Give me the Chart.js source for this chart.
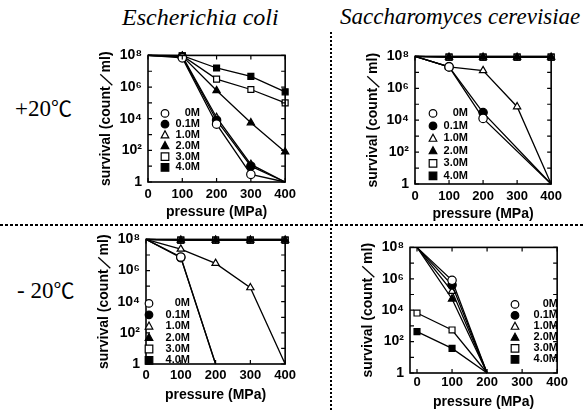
<!DOCTYPE html>
<html>
<head>
<meta charset="utf-8">
<script src="https://cdn.jsdelivr.net/npm/chart.js@4.4.1/dist/chart.umd.min.js"></script>
<style>
  body { margin: 0; background: #fff; width: 583px; height: 412px; overflow: hidden; position: relative; }
  canvas { position: absolute; }
  .txt { position: absolute; white-space: nowrap; color: #000; line-height: 1; }
  .title { font-style: italic; font-family: "Liberation Serif", "Times New Roman", serif; top: 5px; }
  .temp { font: 23px "Liberation Serif", serif; }
  .deg { font-family: "Noto Sans CJK JP", sans-serif; font-size: 21px; }
  .hsep { position: absolute; left: 0; top: 224px; width: 583px; height: 1.5px;
          background: repeating-linear-gradient(90deg, #000 0 3px, transparent 3px 5px); }
  .vsep { position: absolute; left: 330px; top: 32px; width: 1.5px; height: 380px;
          background: repeating-linear-gradient(180deg, #000 0 2px, transparent 2px 4px); }
</style>
</head>
<body>
<div class="txt title" style="left:122px;font-size:24px">Escherichia coli</div>
<div class="txt title" style="left:340px;font-size:23px">Saccharomyces cerevisiae</div>
<div class="txt temp" style="left:15px;top:92px">+20<span class="deg">℃</span></div>
<div class="txt temp" style="left:17px;top:274px">- 20<span class="deg">℃</span></div>
<div class="hsep"></div>
<div class="vsep"></div>
<canvas id="p1"></canvas>
<canvas id="p2"></canvas>
<canvas id="p3"></canvas>
<canvas id="p4"></canvas>
<script>
// series (salt concentration) and marker look
const seriesLabels = ['0M', '0.1M', '1.0M', '2.0M', '3.0M', '4.0M'];
const markerShape = ['circle', 'circle', 'triangle', 'triangle', 'rect', 'rect'];
const markerFilled = [false, true, false, true, false, true];

const yTickValues = [1, 1e2, 1e4, 1e6, 1e8];
const yTickLabels = ['1', '10²', '10⁴', '10⁶', '10⁸'];
const xTickValues = [0, 100, 200, 300, 400];

// E. coli, +20C  (survival count/ml at each pressure)
const ecoliWarmP = [0, 100, 200, 300, 400];
const ecoliWarm = [
  [1e8, 7e7, 4.5e3, 3, 1],
  [1e8, 8e7, 8e3, 10, 1],
  [1e8, 9e7, 1.2e4, 13, 1],
  [1e8, 9e7, 6e5, 5.6e3, 80],
  [1e8, 9.5e7, 3.2e6, 7e5, 1e5],
  [1e8, 9.5e7, 1.6e7, 4.7e6, 5e5]
];

// S. cerevisiae, +20C
const yeastWarmP = [0, 100, 200, 300, 400];
const yeastWarm = [
  [1e8, 2.2e7, 1.3e4, null, 1],
  [1e8, 2.2e7, 3e4, null, 1],
  [1e8, 2.2e7, 1.3e7, 7e4, 1],
  [1e8, 9e7, 9e7, 9e7, 9e7],
  [1e8, 9e7, 9e7, 9e7, 9e7],
  [1e8, 9e7, 9e7, 9e7, 9e7]
];

// E. coli, -20C
const ecoliColdP = [0, 100, 200, 300, 400];
const ecoliCold = [
  [1e8, 7.4e6, 1, null, null],
  [1e8, 6.8e6, 1, null, null],
  [1e8, 2.4e7, 2.9e6, 8e4, 1],
  [1e8, 9e7, 9e7, 9e7, 9e7],
  [1e8, 9e7, 9e7, 9e7, 9e7],
  [1e8, 9e7, 9e7, 9e7, 9e7]
];

// S. cerevisiae, -20C
const yeastColdP = [0, 100, 200];
const yeastCold = [
  [1e8, 8e5, 1],
  [1e8, 4e5, 1],
  [1e8, 1.6e5, 1],
  [1e8, 5.2e4, 1],
  [6.6e3, 5.5e2, 1],
  [4.3e2, 37, 1]
];

const FONT = '"Liberation Sans", Arial, sans-serif';

function drawMarker(ctx, shape, filled, x, y, r) {
  ctx.save();
  ctx.beginPath();
  if (shape === 'circle') {
    ctx.arc(x, y, r, 0, Math.PI * 2);
  } else if (shape === 'triangle') {
    ctx.moveTo(x, y - r * 1.1);
    ctx.lineTo(x + r, y + r * 0.75);
    ctx.lineTo(x - r, y + r * 0.75);
    ctx.closePath();
  } else {
    ctx.rect(x - r, y - r, r * 2, r * 2);
  }
  ctx.fillStyle = filled ? '#000' : '#fff';
  ctx.fill();
  ctx.lineWidth = 1.2;
  ctx.strokeStyle = '#000';
  ctx.stroke();
  ctx.restore();
}

// box frame with inward ticks on all four sides
const frameTicks = {
  id: 'frameTicks',
  afterDraw(chart) {
    const {ctx, chartArea: a, scales: {x, y}} = chart;
    ctx.save();
    ctx.strokeStyle = '#000';
    ctx.lineWidth = 1.6;
    ctx.strokeRect(a.left, a.top, a.right - a.left, a.bottom - a.top);
    ctx.lineWidth = 1.2;
    ctx.beginPath();
    for (let d = 0; d <= 8; d++) {
      const py = y.getPixelForValue(Math.pow(10, d));
      ctx.moveTo(a.left, py); ctx.lineTo(a.left + 4, py);
      ctx.moveTo(a.right, py); ctx.lineTo(a.right - 4, py);
    }
    xTickValues.forEach(v => {
      const px = x.getPixelForValue(v);
      ctx.moveTo(px, a.bottom); ctx.lineTo(px, a.bottom - 4);
      ctx.moveTo(px, a.top); ctx.lineTo(px, a.top + 4);
    });
    ctx.stroke();
    ctx.restore();
  }
};

// legend drawn inside the plot area
const innerLegend = {
  id: 'innerLegend',
  afterDraw(chart, args, opts) {
    const {ctx, chartArea: a} = chart;
    const mx = a.left + opts.x;
    ctx.save();
    ctx.font = 'bold 11px ' + FONT;
    ctx.textAlign = 'right';
    ctx.textBaseline = 'middle';
    ctx.fillStyle = '#000';
    seriesLabels.forEach((lab, i) => {
      const my = a.top + opts.y + i * opts.gap;
      drawMarker(ctx, markerShape[i], markerFilled[i], mx, my, 3.8);
      ctx.fillText(lab, mx + opts.textEnd, my);
    });
    ctx.restore();
  }
};

function makePanel(id, box, pressures, rows, opt) {
  const canvas = document.getElementById(id);
  const padL = 64, padT = 10, padR = 10, xH = 42;
  canvas.width = box.r - box.l + padL + padR;
  canvas.height = box.b - box.t + padT + xH;
  canvas.style.left = (box.l - padL) + 'px';
  canvas.style.top = (box.t - padT) + 'px';

  const datasets = rows.map((vals, i) => ({
    label: seriesLabels[i],
    data: pressures.map((p, j) => ({x: p, y: vals[j]})).filter(d => d.y !== null),
    showLine: true,
    borderColor: '#000',
    borderWidth: 1.3,
    tension: 0,
    clip: 8,
    pointStyle: markerShape[i],
    pointBackgroundColor: markerFilled[i] ? '#000' : '#fff',
    pointBorderColor: '#000',
    pointBorderWidth: 1.2,
    pointRadius: c => (c.raw && (c.raw.y >= 1e8 || c.raw.y <= 1)) ? 0 : 4.2
  }));

  return new Chart(canvas, {
    type: 'scatter',
    data: {datasets},
    options: {
      responsive: false,
      animation: false,
      devicePixelRatio: 1,
      layout: {padding: {top: padT, right: padR, left: 0, bottom: 0}},
      scales: {
        x: {
          type: 'linear',
          min: opt.xMin,
          max: 400,
          afterBuildTicks: s => { s.ticks = xTickValues.map(v => ({value: v})); },
          afterFit: s => { s.height = xH; },
          grid: {display: false, drawTicks: false},
          border: {display: false},
          ticks: {color: '#000', padding: opt.xTickPad, maxRotation: 0, autoSkip: false,
                  font: {family: FONT, size: 13, weight: 'bold'}},
          title: {display: true, text: 'pressure (MPa)', color: '#000',
                  padding: {top: 0, bottom: opt.xTitlePad},
                  font: {family: FONT, size: 14, weight: 'bold'}}
        },
        y: {
          type: 'logarithmic',
          min: 1,
          max: 1e8,
          afterBuildTicks: s => { s.ticks = yTickValues.map(v => ({value: v})); },
          afterFit: s => { s.width = padL; },
          grid: {display: false, drawTicks: false},
          border: {display: false},
          ticks: {color: '#000', padding: 6, autoSkip: false,
                  callback: v => yTickLabels[yTickValues.indexOf(v)],
                  font: {family: FONT, size: 14, weight: 'bold'}},
          title: {display: true, text: 'survival (count／ml)', color: '#000',
                  padding: {top: opt.yTitlePad, bottom: 0},
                  font: {family: FONT, size: 14, weight: 'bold'}}
        }
      },
      plugins: {
        legend: {display: false},
        tooltip: {enabled: false},
        innerLegend: opt.legend
      }
    },
    plugins: [frameTicks, innerLegend]
  });
}

makePanel('p1', {l: 148, r: 291, t: 51, b: 182}, ecoliWarmP, ecoliWarm,
  {xMin: 0, xTickPad: 5, xTitlePad: 3, yTitlePad: 14, legend: {x: 17, y: 58, gap: 10.8, textEnd: 35}});
makePanel('p2', {l: 415, r: 557, t: 52, b: 184}, yeastWarmP, yeastWarm,
  {xMin: 0, xTickPad: 5, xTitlePad: 3, yTitlePad: 14, legend: {x: 18, y: 57, gap: 12.5, textEnd: 35}});
makePanel('p3', {l: 146, r: 290, t: 235, b: 364}, ecoliColdP, ecoliCold,
  {xMin: 0, xTickPad: 4, xTitlePad: 2, yTitlePad: 14, legend: {x: 3, y: 64, gap: 11.4, textEnd: 41}});
makePanel('p4', {l: 410, r: 560, t: 243, b: 373}, yeastColdP, yeastCold,
  {xMin: -20, xTickPad: 2, xTitlePad: 4, yTitlePad: 14, legend: {x: 105, y: 57, gap: 11, textEnd: 43}});
</script>
</body>
</html>
